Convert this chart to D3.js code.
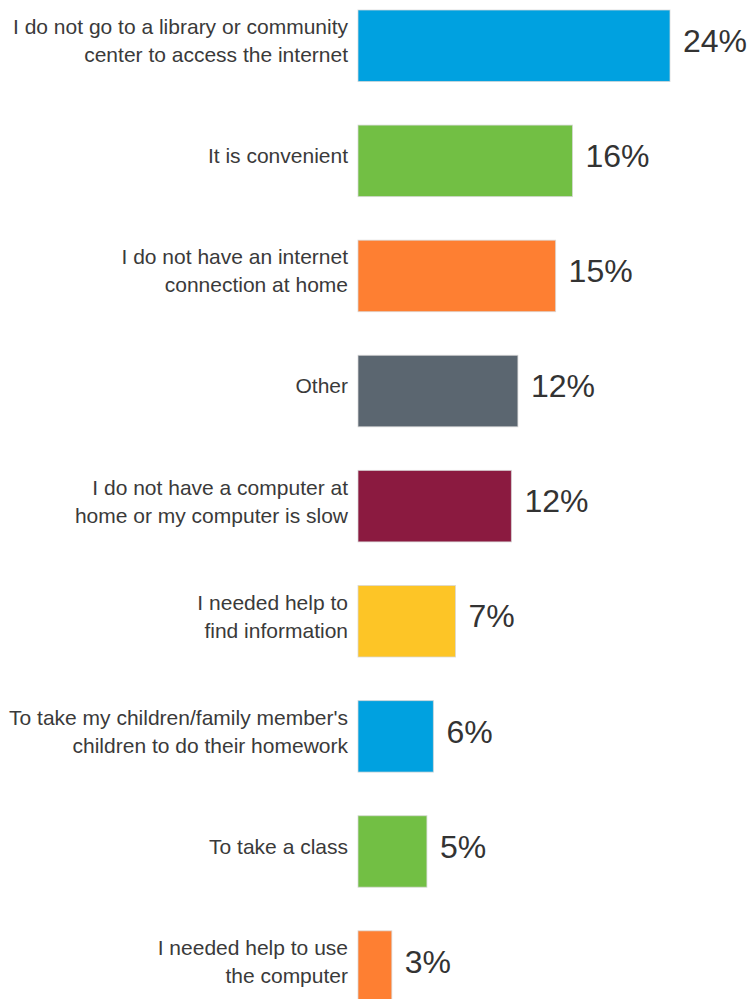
<!DOCTYPE html>
<html>
<head>
<meta charset="utf-8">
<script src="https://cdn.jsdelivr.net/npm/d3@7"></script>
<style>
  body { margin: 0; background: #fff; }
  svg { display: block; font-family: "Liberation Sans", Arial, sans-serif; }
</style>
</head>
<body>
<svg id="chart" width="751" height="999"></svg>
<script>
// chart data
var categories = [
  ["I do not go to a library or community", "center to access the internet"],
  ["It is convenient"],
  ["I do not have an internet", "connection at home"],
  ["Other"],
  ["I do not have a computer at", "home or my computer is slow"],
  ["I needed help to", "find information"],
  ["To take my children/family member's", "children to do their homework"],
  ["To take a class"],
  ["I needed help to use", "the computer"]
];
var values = [24.0, 16.5, 15.2, 12.3, 11.8, 7.5, 5.8, 5.3, 2.6];
var valueLabels = ["24%", "16%", "15%", "12%", "12%", "7%", "6%", "5%", "3%"];
var colors = ["#00a1e0", "#72bf44", "#fe7f32", "#5b6670", "#8b1a40", "#fdc526", "#00a1e0", "#72bf44", "#fe7f32"];

var canvas = d3.select("#chart"),
    width = +canvas.attr("width"),
    height = +canvas.attr("height");

var idx = d3.range(values.length);

// scales
var x = d3.scaleLinear().domain([0, 24]).range([358, 670]);
var y = d3.scaleBand().domain(idx).range([10, 1002.3]).paddingInner(0.379).paddingOuter(0);

var rows = canvas.selectAll("g.row")
    .data(idx)
  .enter().append("g")
    .attr("class", "row");

// bars
rows.append("rect")
    .attr("x", x(0))
    .attr("y", function(i) { return y(i); })
    .attr("width", function(i) { return x(values[i]) - x(0); })
    .attr("height", y.bandwidth())
    .attr("fill", function(i) { return colors[i]; })
    .attr("stroke", "rgba(215,215,215,0.75)")
    .attr("stroke-width", 1);

// category labels, right aligned next to the bars
rows.each(function(i) {
  var lines = categories[i];
  var lineH = 28;
  var cy = y(i) + y.bandwidth() / 2 - 5;
  var t = d3.select(this).append("text")
      .attr("text-anchor", "end")
      .attr("fill", "#3a3a3a")
      .style("font-size", "21px");
  lines.forEach(function(l, k) {
    t.append("tspan")
        .attr("x", 348)
        .attr("y", cy + (k - (lines.length - 1) / 2) * lineH)
        .attr("dy", "0.35em")
        .text(l);
  });
});

// value labels
rows.append("text")
    .attr("x", function(i) { return x(values[i]) + 13; })
    .attr("y", function(i) { return y(i) + y.bandwidth() / 2 - 5; })
    .attr("dy", "0.35em")
    .attr("fill", "#333")
    .style("font-size", "32px")
    .text(function(i) { return valueLabels[i]; });
</script>
</body>
</html>
